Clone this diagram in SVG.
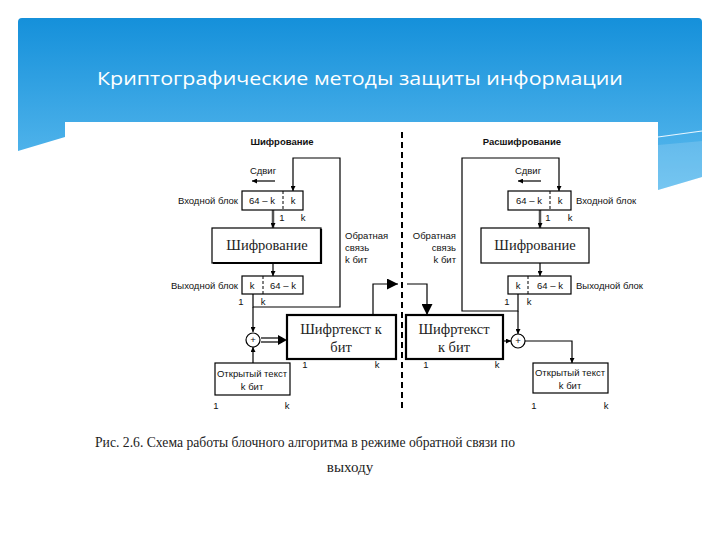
<svg xmlns="http://www.w3.org/2000/svg" width="720" height="540" viewBox="0 0 720 540">
<defs>
<linearGradient id="bg" x1="0" y1="0" x2="0" y2="1">
<stop offset="0" stop-color="#1590da"/>
<stop offset="1" stop-color="#5ebcef"/>
</linearGradient>
<marker id="ah" viewBox="0 0 10 10" refX="10" refY="5" markerWidth="5" markerHeight="5" orient="auto" markerUnits="userSpaceOnUse">
<path d="M0,0 L10,5 L0,10 z" fill="#000"/>
</marker>
<marker id="big" viewBox="0 0 10 10" refX="10" refY="5" markerWidth="11" markerHeight="11" orient="auto" markerUnits="userSpaceOnUse">
<path d="M0,0 L10,5 L0,10 z" fill="#000"/>
</marker>
</defs>
<style>
.lbl{font-family:"Liberation Sans",Arial,sans-serif;font-size:9.5px;fill:#111}
.hdr{font-family:"Liberation Sans",Arial,sans-serif;font-size:9.5px;font-weight:bold;fill:#111}
.ser{font-family:"Liberation Serif","Times New Roman",serif;font-size:14.5px;fill:#222}
.box{fill:#fff;stroke:#000;stroke-width:1.2}
.thick{fill:#fff;stroke:#000;stroke-width:2.2}
.ln{fill:none;stroke:#000;stroke-width:1.2}
.dv{stroke:#000;stroke-width:1;stroke-dasharray:3,2}
</style>
<rect width="720" height="540" fill="#fff"/>
<g id="background">
<path d="M22,18 H698 Q702,18 702,22 V177 L658,190 V122 H65 V137 L18,151 V22 Q18,18 22,18 z" fill="url(#bg)"/>
<path d="M658,137 L702,131" stroke="#e8f6ff" stroke-width="1.2" fill="none"/>
<path d="M658,145 L702,141 V177 L658,190 z" fill="#ffffff" opacity="0.15"/>
<text x="360" y="85" text-anchor="middle" font-family="'Open Sans','Noto Sans',sans-serif" font-size="19" fill="#fff" textLength="526" lengthAdjust="spacingAndGlyphs">Криптографические методы защиты информации</text>
</g>
<g id="divider">
<line x1="402" y1="132" x2="402" y2="409" stroke="#000" stroke-width="2" stroke-dasharray="6,4"/>
</g>
<g id="headers">
<text class="hdr" x="282" y="145" text-anchor="middle">Шифрование</text>
<text class="hdr" x="522" y="145" text-anchor="middle">Расшифрование</text>
</g>
<g id="connectors">
<!-- left -->
<path class="ln" d="M253,294 V307 H340 V158 H293 V191" marker-end="url(#ah)"/>
<line class="ln" x1="275" y1="181" x2="252" y2="181" marker-end="url(#ah)"/>
<line x1="273" y1="210" x2="273" y2="228" stroke="#555" stroke-width="2.5" marker-end="url(#ah)"/>
<line class="ln" x1="273" y1="263" x2="273" y2="276" marker-end="url(#ah)"/>
<line class="ln" x1="253" y1="307" x2="253" y2="332" marker-end="url(#ah)"/>
<line class="ln" x1="253" y1="363" x2="253" y2="347" marker-end="url(#ah)"/>
<line class="ln" x1="261" y1="338" x2="282" y2="338"/>
<line class="ln" x1="261" y1="342" x2="282" y2="342"/>
<path d="M278,335 L287,340 L278,345 z" fill="#000"/>
<path class="ln" d="M373,315 V284 H398" stroke-width="1.6" marker-end="url(#big)"/>
<!-- right -->
<path class="ln" d="M518,294 V311 H462 V158 H559 V191" marker-end="url(#ah)"/>
<line class="ln" x1="541" y1="181" x2="518" y2="181" marker-end="url(#ah)"/>
<line x1="540" y1="210" x2="540" y2="228" stroke="#555" stroke-width="2.5" marker-end="url(#ah)"/>
<line class="ln" x1="540" y1="263" x2="540" y2="276" marker-end="url(#ah)"/>
<line class="ln" x1="518" y1="311" x2="518" y2="334" marker-end="url(#ah)"/>
<path class="ln" d="M407,284 H427 V315" stroke-width="1.6" marker-end="url(#big)"/>
<line class="ln" x1="503" y1="341" x2="511" y2="341" marker-end="url(#ah)"/>
<path class="ln" d="M525,341 H572 V363" marker-end="url(#ah)"/>
</g>
<g id="enc-side">
<text class="lbl" x="263" y="174" text-anchor="middle">Сдвиг</text>
<g id="in-block-l">
<rect class="box" x="242" y="191" width="61" height="19"/>
<line class="dv" x1="283" y1="191" x2="283" y2="210"/>
<text class="lbl" x="262" y="204" text-anchor="middle">64 – k</text>
<text class="lbl" x="293" y="204" text-anchor="middle">k</text>
<text class="lbl" x="238" y="204" text-anchor="end">Входной блок</text>
<text class="lbl" x="282" y="221" text-anchor="middle">1</text>
<text class="lbl" x="303" y="221" text-anchor="middle">k</text>
</g>
<g id="enc-l">
<rect class="box" x="212" y="228" width="109" height="35"/>
<path d="M321,229 V263 H213" fill="none" stroke="#000" stroke-width="2.2"/>
<text class="ser" x="267" y="250" text-anchor="middle">Шифрование</text>
</g>
<g id="out-block-l">
<rect class="box" x="242" y="276" width="61" height="18"/>
<line class="dv" x1="263" y1="276" x2="263" y2="294"/>
<text class="lbl" x="252" y="289" text-anchor="middle">k</text>
<text class="lbl" x="283" y="289" text-anchor="middle">64 – k</text>
<text class="lbl" x="238" y="289" text-anchor="end">Выходной блок</text>
<text class="lbl" x="241" y="305" text-anchor="middle">1</text>
<text class="lbl" x="263" y="305" text-anchor="middle">k</text>
</g>
<text class="lbl" x="345" y="239">Обратная</text>
<text class="lbl" x="345" y="251">связь</text>
<text class="lbl" x="345" y="263">k бит</text>
<g id="xor-l">
<circle cx="253" cy="340" r="7" fill="#fff" stroke="#000" stroke-width="1.2"/>
<text class="lbl" x="253" y="343" text-anchor="middle" font-size="8">+</text>
</g>
<g id="cipher-l">
<rect class="thick" x="287" y="315" width="109" height="44"/>
<text class="ser" x="341" y="334" text-anchor="middle">Шифртекст к</text>
<text class="ser" x="341" y="352" text-anchor="middle">бит</text>
<text class="lbl" x="305" y="368" text-anchor="middle">1</text>
<text class="lbl" x="377" y="368" text-anchor="middle">k</text>
</g>
<g id="plain-l">
<rect class="box" x="215" y="363" width="75" height="32"/>
<text class="lbl" x="252" y="377" text-anchor="middle">Открытый текст</text>
<text class="lbl" x="252" y="390" text-anchor="middle">k бит</text>
<text class="lbl" x="216" y="409" text-anchor="middle">1</text>
<text class="lbl" x="287" y="409" text-anchor="middle">k</text>
</g>
</g>
<g id="dec-side">
<text class="lbl" x="528" y="174" text-anchor="middle">Сдвиг</text>
<g id="in-block-r">
<rect class="box" x="508" y="191" width="63" height="19"/>
<line class="dv" x1="550" y1="191" x2="550" y2="210"/>
<text class="lbl" x="529" y="204" text-anchor="middle">64 – k</text>
<text class="lbl" x="560" y="204" text-anchor="middle">k</text>
<text class="lbl" x="576" y="204">Входной блок</text>
<text class="lbl" x="548" y="221" text-anchor="middle">1</text>
<text class="lbl" x="570" y="221" text-anchor="middle">k</text>
</g>
<g id="enc-r">
<rect class="box" x="481" y="228" width="108" height="35"/>
<text class="ser" x="535" y="250" text-anchor="middle">Шифрование</text>
</g>
<g id="out-block-r">
<rect class="box" x="508" y="276" width="63" height="18"/>
<line class="dv" x1="528" y1="276" x2="528" y2="294"/>
<text class="lbl" x="518" y="289" text-anchor="middle">k</text>
<text class="lbl" x="550" y="289" text-anchor="middle">64 – k</text>
<text class="lbl" x="576" y="289">Выходной блок</text>
<text class="lbl" x="507" y="305" text-anchor="middle">1</text>
<text class="lbl" x="529" y="305" text-anchor="middle">k</text>
</g>
<text class="lbl" x="456" y="239" text-anchor="end">Обратная</text>
<text class="lbl" x="456" y="251" text-anchor="end">связь</text>
<text class="lbl" x="456" y="263" text-anchor="end">k бит</text>
<g id="xor-r">
<circle cx="518" cy="341" r="7" fill="#fff" stroke="#000" stroke-width="1.2"/>
<text class="lbl" x="518" y="344" text-anchor="middle" font-size="8">+</text>
</g>
<g id="cipher-r">
<rect class="thick" x="406" y="315" width="97" height="44"/>
<text class="ser" x="454" y="334" text-anchor="middle">Шифртекст</text>
<text class="ser" x="454" y="352" text-anchor="middle">к бит</text>
<text class="lbl" x="426" y="368" text-anchor="middle">1</text>
<text class="lbl" x="497" y="368" text-anchor="middle">k</text>
</g>
<g id="plain-r">
<rect class="box" x="533" y="363" width="75" height="30"/>
<text class="lbl" x="570" y="376" text-anchor="middle">Открытый текст</text>
<text class="lbl" x="570" y="389" text-anchor="middle">k бит</text>
<text class="lbl" x="534" y="409" text-anchor="middle">1</text>
<text class="lbl" x="606" y="409" text-anchor="middle">k</text>
</g>
</g>
<g id="caption">
<text x="95" y="447" font-family="'Liberation Serif','Times New Roman',serif" font-size="15" fill="#222" textLength="420" lengthAdjust="spacingAndGlyphs">Рис. 2.6. Схема работы блочного алгоритма в режиме обратной связи по</text>
<text x="350" y="472" text-anchor="middle" font-family="'Liberation Serif','Times New Roman',serif" font-size="15" fill="#222">выходу</text>
</g>
</svg>
